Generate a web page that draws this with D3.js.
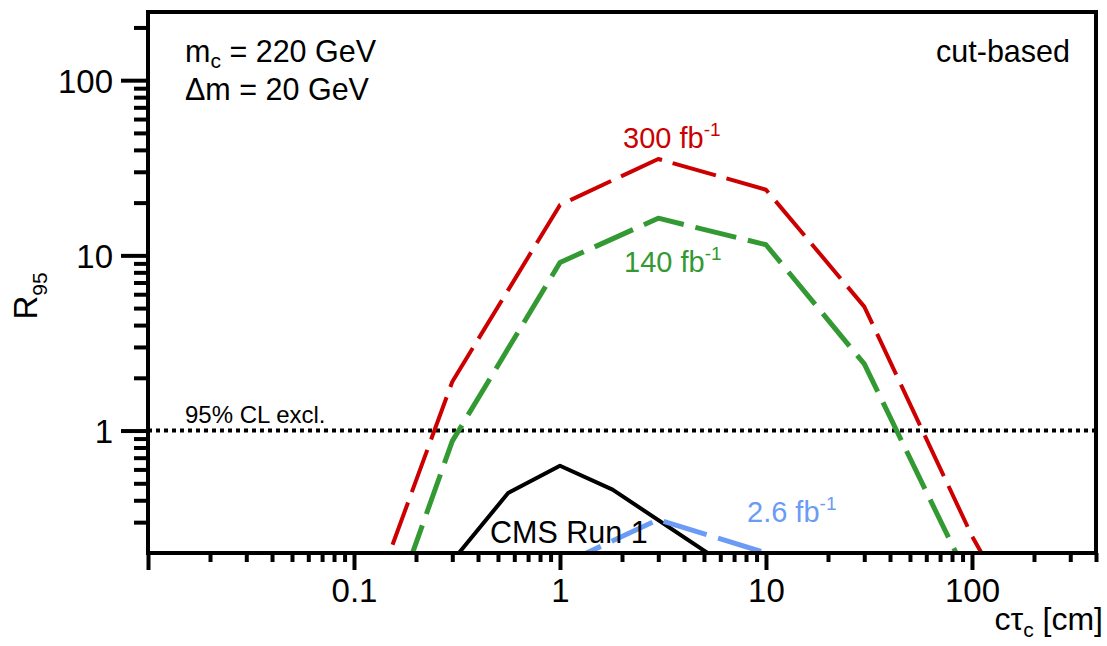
<!DOCTYPE html>
<html>
<head>
<meta charset="utf-8">
<script src="https://cdn.jsdelivr.net/npm/d3@7"></script>
<style>
  body { margin: 0; background: #fff; }
  svg { display: block; font-family: "Liberation Sans", Arial, sans-serif; }
</style>
</head>
<body>
<div id="chart"></div>
<script>
// ---- data (x = c*tau in cm, y = R95) ----
const lumi300 = [[0.1, 0.056], [0.3, 1.9], [1, 19.4], [3, 35.5], [10, 23.7], [30, 5.1], [100, 0.25], [300, 0.025]];
const lumi140 = [[0.1, 0.023], [0.3, 0.87], [1, 9.1], [3, 16.3], [10, 11.5], [30, 2.4], [100, 0.13]];
const lumi2p6 = [[1, 0.17], [3, 0.31], [10, 0.2], [30, 0.08]];
const cmsRun1 = [[0.3, 0.18], [0.56, 0.44], [1, 0.63], [1.8, 0.46], [10, 0.12]];

const xMajor = [0.01, 0.1, 1, 10, 100];
const xLabels = ["", "0.1", "1", "10", "100"];
const yMajor = [1, 10, 100];
const yLabels = ["1", "10", "100"];

const W = 1107, H = 646;
const pLeft = 148, pRight = 1096, pTop = 12, pBottom = 553;

const svg = d3.select("#chart").append("svg")
  .attr("width", W).attr("height", H);

const x = d3.scaleLog().domain([0.01, 400]).range([pLeft, pRight]);
const y = d3.scaleLog().domain([0.2, 245]).range([pBottom, pTop]);

// minor ticks (2..9 of every decade inside the domain)
const xMinor = [];
[0.01, 0.1, 1, 10, 100].forEach(d => {
  for (let k = 2; k <= 9; k++) {
    const v = d * k;
    if (v < 400.001) xMinor.push(v);
  }
});
const yMinor = [];
[0.1, 1, 10, 100].forEach(d => {
  for (let k = 2; k <= 9; k++) {
    const v = d * k;
    if (v > 0.2 && v < 245) yMinor.push(v);
  }
});

svg.append("defs").append("clipPath").attr("id", "plot-clip")
  .append("rect")
  .attr("x", pLeft).attr("y", pTop)
  .attr("width", pRight - pLeft).attr("height", pBottom - pTop);

// ---- axes ----
const gx = svg.append("g").attr("transform", `translate(0,${pBottom})`);
gx.append("g").call(d3.axisBottom(x).tickValues(xMinor).tickSize(9).tickFormat(""));
gx.append("g").attr("class", "xmaj")
  .call(d3.axisBottom(x).tickValues(xMajor).tickSize(17).tickFormat((d, i) => xLabels[i]));

const gy = svg.append("g").attr("transform", `translate(${pLeft},0)`);
gy.append("g").call(d3.axisLeft(y).tickValues(yMinor).tickSize(14).tickFormat(""));
gy.append("g").attr("class", "ymaj")
  .call(d3.axisLeft(y).tickValues(yMajor).tickSize(27).tickFormat((d, i) => yLabels[i]));

svg.selectAll(".domain").remove();
svg.selectAll(".tick line").attr("stroke", "#000").attr("stroke-width", 4);
svg.selectAll(".xmaj text")
  .attr("y", 49).attr("dy", 0)
  .attr("font-size", 33).attr("fill", "#000")
  .attr("font-family", "Liberation Sans, Arial, sans-serif");
svg.selectAll(".ymaj text")
  .attr("x", -35).attr("dy", "0.36em")
  .attr("font-size", 33).attr("fill", "#000")
  .attr("font-family", "Liberation Sans, Arial, sans-serif");

// ---- 95% CL line ----
svg.append("line")
  .attr("x1", pLeft).attr("x2", pRight)
  .attr("y1", y(1)).attr("y2", y(1))
  .attr("stroke", "#000").attr("stroke-width", 4)
  .attr("stroke-dasharray", "4,4");

// ---- curves ----
const line = d3.line().x(d => x(d[0])).y(d => y(d[1]));
const plot = svg.append("g").attr("clip-path", "url(#plot-clip)");

const curves = [
  { data: cmsRun1, color: "#000000", width: 4, dash: null },
  { data: lumi2p6, color: "#6b9bf5", width: 5, dash: "45,12" },
  { data: lumi140, color: "#339933", width: 5, dash: "42,12" },
  { data: lumi300, color: "#cc0000", width: 4, dash: "45,11" }
];
curves.forEach(c => {
  plot.append("path")
    .attr("d", line(c.data))
    .attr("fill", "none")
    .attr("stroke", c.color)
    .attr("stroke-width", c.width)
    .attr("stroke-linejoin", "round")
    .attr("stroke-dasharray", c.dash);
});

// ---- frame ----
svg.append("rect")
  .attr("x", pLeft).attr("y", pTop)
  .attr("width", pRight - pLeft).attr("height", pBottom - pTop)
  .attr("fill", "none").attr("stroke", "#000").attr("stroke-width", 4);

// ---- texts ----
function label(tx, ty, size, color, parts, anchor) {
  const t = svg.append("text")
    .attr("x", tx).attr("y", ty)
    .attr("font-size", size).attr("fill", color)
    .attr("text-anchor", anchor || "start");
  parts.forEach(p => {
    const s = t.append("tspan").text(p.text);
    if (p.size) s.attr("font-size", p.size);
    if (p.dy) s.attr("dy", p.dy);
  });
  return t;
}

label(185, 62, 30.5, "#000", [{ text: "m" }, { text: "c", size: 21, dy: 6 }, { text: " = 220 GeV", dy: -6 }]);
label(185, 100, 30.5, "#000", [{ text: "\u0394m = 20 GeV" }]);
label(1070, 62, 30.5, "#000", [{ text: "cut-based" }], "end");
label(185, 423, 24, "#000", [{ text: "95% CL excl." }]);

label(623, 148, 29, "#cc0000", [{ text: "300 fb" }, { text: "-1", size: 19, dy: -12 }]);
label(624, 272, 29, "#339933", [{ text: "140 fb" }, { text: "-1", size: 19, dy: -12 }]);
label(747, 522, 29, "#6b9bf5", [{ text: "2.6 fb" }, { text: "-1", size: 19, dy: -12 }]);
label(490, 543, 30.5, "#000", [{ text: "CMS Run 1" }]);

// axis titles
label(1103, 630, 32, "#000", [{ text: "c\u03c4" }, { text: "c", size: 21, dy: 7 }, { text: " [cm]", dy: -7 }], "end");

const ylab = svg.append("text")
  .attr("transform", "translate(37,296) rotate(-90)")
  .attr("text-anchor", "middle")
  .attr("font-size", 33).attr("fill", "#000");
ylab.append("tspan").text("R");
ylab.append("tspan").text("95").attr("font-size", 21).attr("dy", 10);
</script>
</body>
</html>
